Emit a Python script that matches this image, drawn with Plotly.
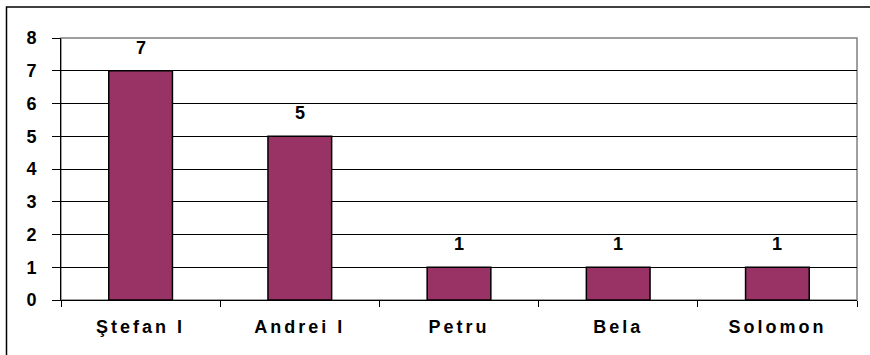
import plotly.graph_objects as go

# data
names = ['Ştefan I', 'Andrei I', 'Petru', 'Bela', 'Solomon']
counts = [7, 5, 1, 1, 1]
y_ticks = [0, 1, 2, 3, 4, 5, 6, 7, 8]

W, H = 870, 355
L, R, T, B = 61, 13, 38, 55
pw, ph = W - L - R, H - T - B

FONT = 'Arial, Liberation Sans, sans-serif'

# category labels with wide letter spacing like the original
spaced = ['<span style="letter-spacing:3px">%s</span>' % n for n in names]

fig = go.Figure()

fig.add_trace(go.Bar(
    x=names,
    y=counts,
    width=0.4,
    marker=dict(color='#993366', line=dict(color='black', width=1.5)),
    hoverinfo='x+y',
))

# value labels, a little above each bar
for n, c in zip(names, counts):
    fig.add_annotation(x=n, y=c, text='<b>%d</b>' % c, showarrow=False,
                       yanchor='bottom', yshift=11,
                       font=dict(family=FONT, size=18, color='black'))

# plot area frame (grey, right/top)
fig.add_shape(type='rect', xref='paper', yref='paper', x0=0, y0=0, x1=1, y1=1,
              line=dict(color='#808080', width=1.5), layer='below')

# outer chart border
fig.add_shape(type='rect', xref='paper', yref='paper',
              x0=(6.5 - L) / pw, y0=-(B + 20) / ph,
              x1=(pw + R + 20) / pw, y1=(ph + T - 7) / ph,
              line=dict(color='black', width=1.5))

fig.update_layout(
    width=W, height=H,
    margin=dict(l=L, r=R, t=T, b=B),
    paper_bgcolor='white',
    plot_bgcolor='white',
    showlegend=False,
    font=dict(family=FONT, size=18, color='black'),
    xaxis=dict(
        automargin=False,
        tickvals=names, ticktext=spaced,
        showgrid=False,
        showline=True, linecolor='black', linewidth=1,
        ticks='outside', tickson='boundaries', ticklen=6, tickcolor='black',
        tickfont=dict(family=FONT, size=18, color='black', weight='bold'),
        ticklabelstandoff=10,
        zeroline=False,
    ),
    yaxis=dict(
        automargin=False,
        range=[0, 8],
        tickvals=y_ticks,
        showgrid=True, gridcolor='black', gridwidth=1,
        showline=True, linecolor='black', linewidth=1,
        ticks='outside', ticklen=8, tickcolor='black',
        tickfont=dict(family=FONT, size=18, color='black', weight='bold'),
        ticklabelstandoff=12,
        zeroline=False,
    ),
)

# drop the default page margin so the chart sits at the window origin
fig.write_html('out.html', config={'displayModeBar': False},
               post_script="document.body.style.margin='0';")
